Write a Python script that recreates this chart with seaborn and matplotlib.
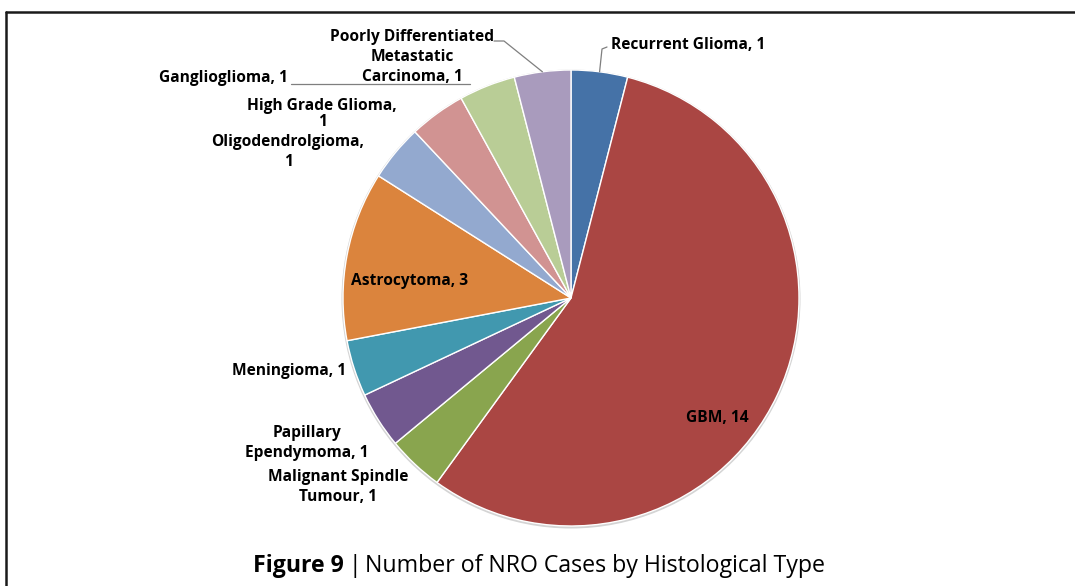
import matplotlib
matplotlib.use("Agg")
import matplotlib.pyplot as plt
from matplotlib.lines import Line2D
from matplotlib.patches import Circle
import numpy as np
import seaborn as sns

# ---- data -------------------------------------------------------------
categories = [
    "Recurrent Glioma",
    "GBM",
    "Malignant Spindle Tumour",
    "Papillary Ependymoma",
    "Meningioma",
    "Astrocytoma",
    "Oligodendrolgioma",
    "High Grade Glioma",
    "Ganglioglioma",
    "Poorly Differentiated Metastatic Carcinoma",
]
cases = [1, 14, 1, 1, 1, 3, 1, 1, 1, 1]
slice_colors = ["#4572A7", "#AA4643", "#89A54E", "#71588F", "#4198AF",
                "#DB843D", "#93A9CF", "#D19392", "#B9CD96", "#A99BBD"]
caption_bold = "Figure 9"
caption_text = "Number of NRO Cases by Histological Type"

# ---- layout (pixel canvas, y measured from the top) -------------------
W, H = 1075, 586
CX, CY, R = 571, 298, 228

# words per line for wrapped labels; anchor point, alignment, line spacing
label_layout = {
    "Recurrent Glioma": dict(xy=(611, 45), ha="left", words=None, ls=1.3),
    "GBM": dict(xy=(717, 418), ha="center", words=None, ls=1.3),
    "Malignant Spindle Tumour": dict(xy=(338, 487), ha="center", words=[2, 2], ls=1.3),
    "Papillary Ependymoma": dict(xy=(307, 443), ha="center", words=[1, 2], ls=1.3),
    "Meningioma": dict(xy=(346, 371), ha="right", words=None, ls=1.3),
    "Astrocytoma": dict(xy=(410, 281), ha="center", words=None, ls=1.3),
    "Oligodendrolgioma": dict(xy=(288, 152), ha="center", words=[1, 1], ls=1.3),
    "High Grade Glioma": dict(xy=(322, 114), ha="center", words=[3, 1], ls=1.0),
    "Ganglioglioma": dict(xy=(288, 78), ha="right", words=None, ls=1.3),
    "Poorly Differentiated Metastatic Carcinoma": dict(xy=(412, 57), ha="center", words=[2, 1, 2], ls=1.3),
}

sns.set_theme(style="white")
plt.rcParams["font.family"] = ["Open Sans", "DejaVu Sans"]

fig = plt.figure(figsize=(W / 100, H / 100), dpi=100)
fig.patch.set_facecolor("white")
ax = fig.add_axes([0, 0, 1, 1])


def Y(y):
    return H - y


# soft rim under the pie
ax.add_patch(Circle((CX, Y(CY) - 1), R + 1.5, facecolor="#d4d4d4",
                    edgecolor="none", zorder=0))
wedges, _ = ax.pie(cases, colors=slice_colors, startangle=90, counterclock=False,
                   center=(CX, Y(CY)), radius=R,
                   wedgeprops=dict(edgecolor="white", linewidth=1.0))
ax.set_xlim(0, W)
ax.set_ylim(0, H)
ax.set_aspect("equal")
ax.axis("off")


def label_text(name, value, words):
    toks = f"{name}, {value}".split(" ")
    if not words:
        return " ".join(toks)
    out, i = [], 0
    for n in words:
        out.append(" ".join(toks[i:i + n]))
        i += n
    return "\n".join(out)


def edge_point(w, r=R):
    mid = np.deg2rad((w.theta1 + w.theta2) / 2)
    return CX + r * np.cos(mid), Y(CY) + r * np.sin(mid)


for name, val, w in zip(categories, cases, wedges):
    lay = label_layout[name]
    x, y = lay["xy"]
    ax.text(x, Y(y), label_text(name, val, lay["words"]), ha=lay["ha"],
            va="center", multialignment="center", fontsize=11.2,
            fontweight="bold", color="black", linespacing=lay["ls"], zorder=5)

# leader lines
lead_kw = dict(color="#7f7f7f", linewidth=0.9, zorder=4)
ex, ey = edge_point(wedges[9])
ax.plot([494, 504, ex], [Y(41), Y(41), ey], **lead_kw)
ex, ey = edge_point(wedges[0])
ax.plot([607, 602, ex], [Y(47), Y(49), ey], **lead_kw)
ex, ey = edge_point(wedges[8])
ax.plot([291, ex - 17], [Y(84), Y(84)], **lead_kw)

# caption: bold figure number, separator, regular title
fig.canvas.draw()
renderer = fig.canvas.get_renderer()
cap_kw = dict(fontsize=16.7, va="center", color="black")
t1 = ax.text(0, Y(566), caption_bold, fontweight="bold", **cap_kw)
t2 = ax.text(0, Y(566), "|", **cap_kw)
t3 = ax.text(0, Y(566), caption_text, **cap_kw)
w1 = t1.get_window_extent(renderer).width
w2 = t2.get_window_extent(renderer).width
w3 = t3.get_window_extent(renderer).width
gap = 4
x0 = 539 - (w1 + w2 + w3 + 2 * gap) / 2
t1.set_x(x0)
t2.set_x(x0 + w1 + gap)
t3.set_x(x0 + w1 + w2 + 2 * gap)

# frame around the chart (top and left edges visible)
fig.add_artist(Line2D([6 / W, 1], [1 - 12 / H, 1 - 12 / H], color="#1a1a1a",
                      linewidth=1.8, transform=fig.transFigure))
fig.add_artist(Line2D([6 / W, 6 / W], [0, 1 - 12 / H], color="#1a1a1a",
                      linewidth=1.8, transform=fig.transFigure))

fig.savefig("out.png", dpi=100, facecolor="white")
